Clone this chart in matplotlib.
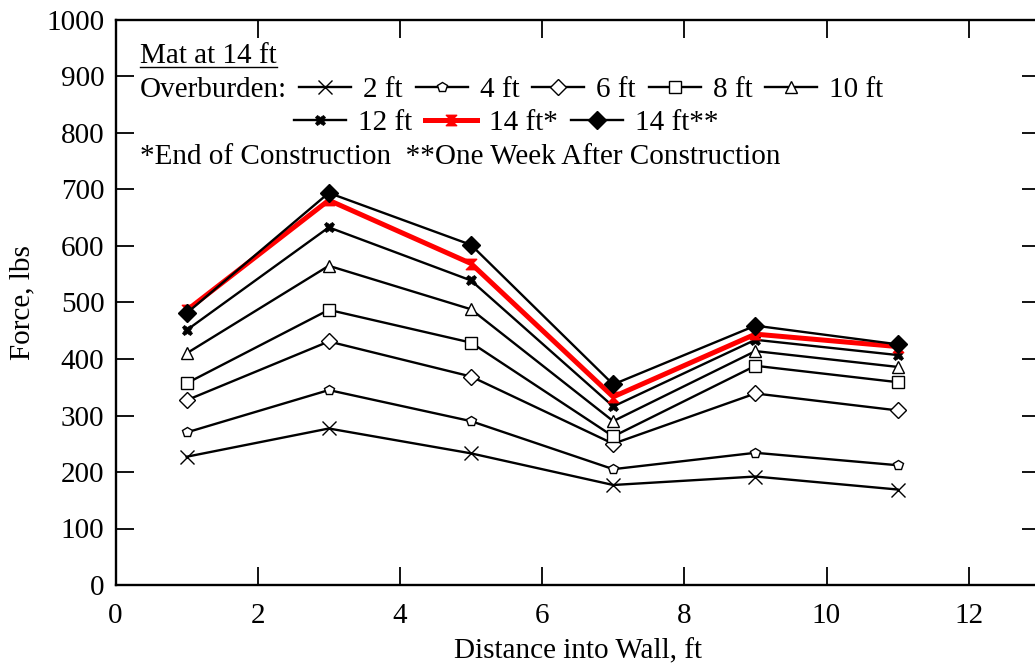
import matplotlib
matplotlib.use("Agg")
import matplotlib.pyplot as plt
from matplotlib.lines import Line2D
from matplotlib.path import Path

plt.rcParams['font.family'] = ['Liberation Serif', 'DejaVu Serif']

distance = [1, 3, 5, 7, 9, 11]
ob_2ft = [227, 277, 233, 177, 192, 169]
ob_4ft = [270, 345, 290, 205, 234, 212]
ob_6ft = [327, 431, 369, 250, 339, 309]
ob_8ft = [357, 487, 429, 263, 388, 359]
ob_10ft = [410, 565, 488, 290, 414, 386]
ob_12ft = [451, 633, 539, 316, 434, 407]
ob_14ft_end = [486, 681, 569, 333, 444, 422]
ob_14ft_week = [481, 694, 602, 355, 459, 426]

labels = ['2 ft', '4 ft', '6 ft', '8 ft', '10 ft', '12 ft', '14 ft*', '14 ft**']
xticks = [0, 2, 4, 6, 8, 10, 12]
yticks = [0, 100, 200, 300, 400, 500, 600, 700, 800, 900, 1000]

W, H = 1035, 664
fig = plt.figure(figsize=(W / 100, H / 100), dpi=100)
x0_px, y0_px = 115.5, 585
ppu_x = 71.1
ax = fig.add_axes([x0_px / W, (H - y0_px) / H, 13 * ppu_x / W, 565 / H])

FS = 21
em = FS * 100 / 72
hourglass = Path([(-1, 1), (1, 1), (-1, -1), (1, -1), (-1, 1)],
                 [Path.MOVETO, Path.LINETO, Path.LINETO, Path.LINETO, Path.CLOSEPOLY])

lw = 1.7
kw = dict(color='black', lw=lw, mfc='white', mec='black', mew=1.0)
l2, = ax.plot(distance, ob_2ft, marker='x', ms=9.5, **kw)
l4, = ax.plot(distance, ob_4ft, marker='p', ms=7.5, **kw)
l6, = ax.plot(distance, ob_6ft, marker='D', ms=8.5, **kw)
l8, = ax.plot(distance, ob_8ft, marker='s', ms=8, **kw)
l10, = ax.plot(distance, ob_10ft, marker='^', ms=9, **kw)
l12, = ax.plot(distance, ob_12ft, marker='X', ms=7.5, color='black', lw=lw,
               mfc='black', mec='black', mew=0.5)
l14a, = ax.plot(distance, ob_14ft_end, marker=hourglass, ms=7.5, color='#ff0000', lw=3.6,
                mfc='#ff0000', mec='#ff0000', mew=1.0)
l14b, = ax.plot(distance, ob_14ft_week, marker='D', ms=9, color='black', lw=lw,
                mfc='black', mec='black', mew=1.0)

ax.set_xlim(0, 13)
ax.set_ylim(0, 1000)
ax.set_xticks(xticks)
ax.set_yticks(yticks)
ax.tick_params(direction='in', length=13, width=1.3, labelsize=FS,
               top=True, right=True)
ax.tick_params(axis='x', pad=13)
ax.tick_params(axis='y', pad=8)
for s in ax.spines.values():
    s.set_linewidth(1.7)

ax.set_xlabel('Distance into Wall, ft', fontsize=FS, labelpad=7)
ax.set_ylabel('Force, lbs', fontsize=FS, labelpad=8)

def fx(px):
    return (px - x0_px) / (13 * ppu_x)

def fy(py):
    return (y0_px - py) / 565

t_mat = ax.text(fx(140), fy(56), 'Mat at 14 ft', fontsize=FS, va='center', ha='left',
                transform=ax.transAxes)
ax.text(fx(140), fy(90), 'Overburden:', fontsize=FS, va='center', ha='left',
        transform=ax.transAxes)
ax.text(fx(140), fy(157), '*End of Construction  **One Week After Construction',
        fontsize=FS, va='center', ha='left', transform=ax.transAxes)

common = dict(frameon=False, fontsize=FS, borderpad=0, borderaxespad=0,
              handlelength=52 / em, handletextpad=12 / em, columnspacing=13 / em,
              loc='center left')
leg1 = ax.legend([l2, l4, l6, l8, l10], labels[:5], ncol=5,
                 bbox_to_anchor=(fx(299), fy(90)), **common)
ax.add_artist(leg1)
leg2 = ax.legend([l12, l14a, l14b], labels[5:], ncol=3,
                 bbox_to_anchor=(fx(294), fy(123)), **common)

fig.canvas.draw()
bb = t_mat.get_window_extent(renderer=fig.canvas.get_renderer())
uy = bb.y0 + 2
fig.add_artist(Line2D([bb.x0 / W, bb.x1 / W], [uy / H, uy / H], color='black', lw=1.0))

fig.savefig('out.png', dpi=100)
